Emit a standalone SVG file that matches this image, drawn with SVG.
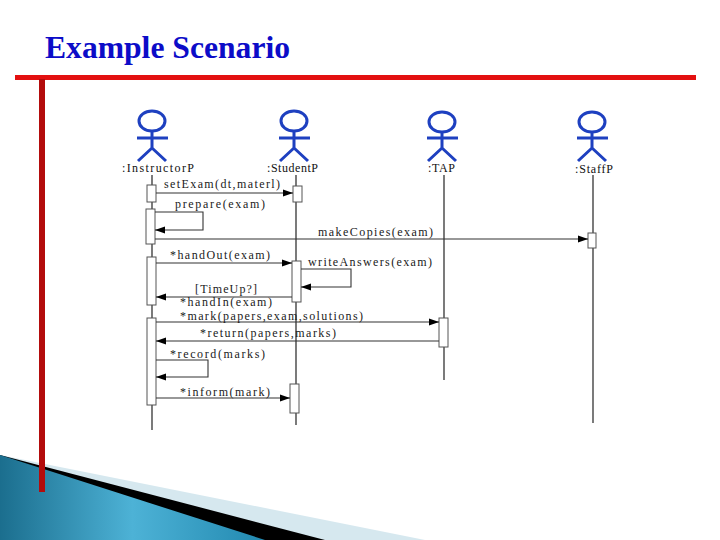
<svg xmlns="http://www.w3.org/2000/svg" width="720" height="540" viewBox="0 0 720 540">
<defs>
<style>
.actor{fill:none;stroke:#1e40c0;stroke-width:3}
.aname{font-family:"Liberation Serif",serif;font-size:12px;fill:#111}
.lbl{font-family:"Liberation Serif",serif;font-size:12px;fill:#1a1a1a}
.life{stroke:#222;stroke-width:1.2}
.act{fill:#fff;stroke:#555;stroke-width:1}
.msg{fill:none;stroke:#333;stroke-width:1.1}
</style>
<marker id="ah" markerWidth="10" markerHeight="8" refX="10" refY="4" orient="auto" markerUnits="userSpaceOnUse">
<path d="M0,0.5 L10,4 L0,7.5 Z" fill="#000"/>
</marker>
<linearGradient id="bg" x1="0" y1="0" x2="1" y2="0">
<stop offset="0" stop-color="#1b6e8e"/>
<stop offset="0.5" stop-color="#4db2d6"/>
<stop offset="1" stop-color="#2289b0"/>
</linearGradient>
</defs>
<rect width="720" height="540" fill="#fff"/>
<g id="decor">
<polygon points="0,455 425,540 0,540" fill="#d6e8ef"/>
<polygon points="0,455 325,540 0,540" fill="#000"/>
<polygon points="0,455 265,540 0,540" fill="url(#bg)"/>
<rect x="15" y="75" width="681" height="5" fill="#e31010"/>
<rect x="39" y="79" width="6" height="413" fill="#b30c0c"/>
<text x="45" y="58" font-family="Liberation Serif,serif" font-weight="bold" font-size="32" fill="#0c0cc8" textLength="245" lengthAdjust="spacingAndGlyphs">Example Scenario</text>
</g>
<g id="instructor">
<ellipse class="actor" cx="152" cy="121" rx="13" ry="10"/>
<path class="actor" d="M152,131 V148 M137,138 H168 M152,148 L138,161 M152,148 L166,161"/>
<text class="aname" x="122" y="172" textLength="72" lengthAdjust="spacing">:InstructorP</text>
<line class="life" x1="152" y1="175" x2="152" y2="430"/>
<rect class="act" x="147" y="185" width="9" height="17"/>
<rect class="act" x="146" y="209" width="9" height="35"/>
<rect class="act" x="147" y="257" width="9" height="48"/>
<rect class="act" x="147" y="318" width="9" height="87"/>
</g>
<g id="student">
<ellipse class="actor" cx="294" cy="121" rx="13" ry="10"/>
<path class="actor" d="M294,131 V148 M279,138 H310 M294,148 L280,161 M294,148 L308,161"/>
<text class="aname" x="267" y="172" textLength="51" lengthAdjust="spacing">:StudentP</text>
<line class="life" x1="296" y1="175" x2="296" y2="425"/>
<rect class="act" x="293" y="186" width="9" height="16"/>
<rect class="act" x="292" y="261" width="9" height="41"/>
<rect class="act" x="290" y="384" width="9" height="29"/>
</g>
<g id="tap">
<ellipse class="actor" cx="442" cy="122" rx="13" ry="10"/>
<path class="actor" d="M442,132 V148 M427,138 H458 M442,148 L428,161 M442,148 L456,161"/>
<text class="aname" x="428" y="172" textLength="27" lengthAdjust="spacing">:TAP</text>
<line class="life" x1="444" y1="175" x2="444" y2="380"/>
<rect class="act" x="439" y="318" width="9" height="29"/>
</g>
<g id="staff">
<ellipse class="actor" cx="592" cy="122" rx="13" ry="10"/>
<path class="actor" d="M592,132 V148 M577,138 H608 M592,148 L578,161 M592,148 L606,161"/>
<text class="aname" x="575" y="173" textLength="38" lengthAdjust="spacing">:StaffP</text>
<line class="life" x1="593" y1="175" x2="593" y2="423"/>
<rect class="act" x="588" y="233" width="8" height="15"/>
</g>
<g id="connectors">
<line class="msg" x1="156" y1="193" x2="293" y2="193" marker-end="url(#ah)"/>
<text class="lbl" x="164" y="188" textLength="116" lengthAdjust="spacing">setExam(dt,materl)</text>
<polyline class="msg" points="155,212 203,212 203,230 155,230" marker-end="url(#ah)"/>
<text class="lbl" x="175" y="208" textLength="90" lengthAdjust="spacing">prepare(exam)</text>
<line class="msg" x1="155" y1="239" x2="588" y2="239" marker-end="url(#ah)"/>
<text class="lbl" x="318" y="236" textLength="115" lengthAdjust="spacing">makeCopies(exam)</text>
<line class="msg" x1="156" y1="263" x2="292" y2="263" marker-end="url(#ah)"/>
<text class="lbl" x="170" y="259" textLength="100" lengthAdjust="spacing">*handOut(exam)</text>
<polyline class="msg" points="301,269 351,269 351,287 301,287" marker-end="url(#ah)"/>
<text class="lbl" x="308" y="266" textLength="124" lengthAdjust="spacing">writeAnswers(exam)</text>
<line class="msg" x1="292" y1="297" x2="156" y2="297" marker-end="url(#ah)"/>
<text class="lbl" x="195" y="292.5" textLength="62" lengthAdjust="spacing">[TimeUp?]</text>
<text class="lbl" x="180" y="306" textLength="92" lengthAdjust="spacing">*handIn(exam)</text>
<line class="msg" x1="156" y1="322" x2="439" y2="322" marker-end="url(#ah)"/>
<text class="lbl" x="180" y="320" textLength="183" lengthAdjust="spacing">*mark(papers,exam,solutions)</text>
<line class="msg" x1="439" y1="341" x2="156" y2="341" marker-end="url(#ah)"/>
<text class="lbl" x="200" y="337" textLength="136" lengthAdjust="spacing">*return(papers,marks)</text>
<polyline class="msg" points="156,360 208,360 208,377 156,377" marker-end="url(#ah)"/>
<text class="lbl" x="170" y="358" textLength="95" lengthAdjust="spacing">*record(marks)</text>
<line class="msg" x1="156" y1="398" x2="290" y2="398" marker-end="url(#ah)"/>
<text class="lbl" x="180" y="396" textLength="90" lengthAdjust="spacing">*inform(mark)</text>
</g>
</svg>
